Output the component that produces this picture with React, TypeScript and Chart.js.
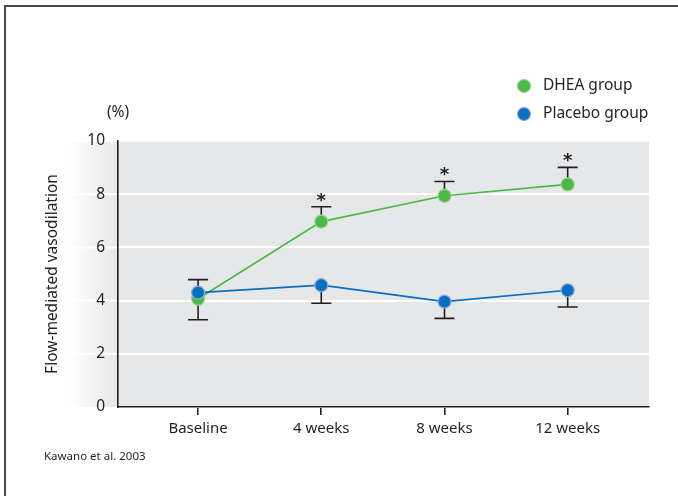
import React, { useEffect, useRef } from "react";
import { Chart, registerables } from "chart.js";

Chart.register(...registerables);

// Time points and measured flow-mediated vasodilation (%)
const categories = ["Baseline", "4 weeks", "8 weeks", "12 weeks"];
const dheaValues = [4.07, 6.97, 7.94, 8.37];
const placeboValues = [4.3, 4.58, 3.96, 4.39];
// One-sided error whisker end values for each group
const dheaWhisker = [3.28, 7.53, 8.48, 9.01];
const placeboWhisker = [4.79, 3.9, 3.33, 3.76];
// Time points where DHEA differs significantly from baseline
const significant = [false, true, true, true];
const yTicks = [0, 2, 4, 6, 8, 10];

const seriesLabels = ["DHEA group", "Placebo group"];
const FONT = "'Noto Sans', sans-serif";
const INK = "#231f20";
const PANEL = "#e6e7e8";
const GREEN = "#4cb848";
const BLUE = "#0b6fc1";

const backdrop = {
  id: "backdrop",
  beforeDraw(chart: any) {
    const { ctx, chartArea, scales } = chart;
    const { left, top, right, bottom } = chartArea;
    ctx.save();
    ctx.fillStyle = "#ffffff";
    ctx.fillRect(0, 0, chart.width, chart.height);

    // outer frame (top and left edges)
    ctx.strokeStyle = "#4a4a4a";
    ctx.lineWidth = 2;
    ctx.beginPath();
    ctx.moveTo(5, chart.height);
    ctx.lineTo(5, 6);
    ctx.lineTo(chart.width, 6);
    ctx.stroke();

    // grey panel with a soft fade to the left of the axis
    ctx.fillStyle = PANEL;
    ctx.fillRect(left, top, right - left, bottom - top);
    const fadeLeft = left - 50;
    const g = ctx.createLinearGradient(fadeLeft, 0, left, 0);
    g.addColorStop(0, "rgba(230,231,232,0)");
    g.addColorStop(1, "rgba(230,231,232,1)");
    ctx.fillStyle = g;
    ctx.fillRect(fadeLeft, top, left - fadeLeft, bottom - top);

    // grid lines continue into the faded band
    ctx.strokeStyle = "#ffffff";
    ctx.lineWidth = 2;
    for (const v of yTicks) {
      if (v === 0) continue;
      const y = scales.y.getPixelForValue(v);
      ctx.beginPath();
      ctx.moveTo(fadeLeft, y);
      ctx.lineTo(left, y);
      ctx.stroke();
    }
    ctx.restore();
  },
};

const whiskers = {
  id: "whiskers",
  beforeDatasetsDraw(chart: any) {
    const { ctx, scales } = chart;
    const sets = [
      { values: dheaValues, ends: dheaWhisker },
      { values: placeboValues, ends: placeboWhisker },
    ];
    ctx.save();
    ctx.strokeStyle = INK;
    ctx.lineWidth = 1.6;
    for (const s of sets) {
      s.values.forEach((v, i) => {
        const x = scales.x.getPixelForValue(i);
        const y0 = scales.y.getPixelForValue(v);
        const y1 = scales.y.getPixelForValue(s.ends[i]);
        ctx.beginPath();
        ctx.moveTo(x, y0);
        ctx.lineTo(x, y1);
        ctx.moveTo(x - 10, y1);
        ctx.lineTo(x + 10, y1);
        ctx.stroke();
      });
    }
    ctx.restore();
  },
  afterDatasetsDraw(chart: any) {
    const { ctx, scales } = chart;
    ctx.save();
    ctx.fillStyle = INK;
    ctx.font = `bold 18px 'DejaVu Sans', sans-serif`;
    ctx.textAlign = "center";
    ctx.textBaseline = "alphabetic";
    significant.forEach((sig, i) => {
      if (!sig) return;
      const x = scales.x.getPixelForValue(i);
      const y = scales.y.getPixelForValue(dheaWhisker[i]);
      ctx.fillText("*", x, y - 1);
    });
    ctx.restore();
  },
};

const annotations = {
  id: "annotations",
  afterDraw(chart: any) {
    const { ctx, chartArea } = chart;
    ctx.save();
    ctx.fillStyle = INK;

    // legend
    const colors = [GREEN, BLUE];
    const rims = ["#93d48e", "#8fa9d9"];
    seriesLabels.forEach((label, i) => {
      const cy = 86 + i * 28;
      ctx.beginPath();
      ctx.arc(524, cy, 6.5, 0, Math.PI * 2);
      ctx.fillStyle = colors[i];
      ctx.fill();
      ctx.lineWidth = 1.2;
      ctx.strokeStyle = rims[i];
      ctx.stroke();
      ctx.fillStyle = INK;
      ctx.font = `15.5px ${FONT}`;
      ctx.textAlign = "left";
      ctx.textBaseline = "middle";
      ctx.fillText(label, 543, cy);
    });

    // unit label above the axis
    ctx.font = `15.5px ${FONT}`;
    ctx.textAlign = "center";
    ctx.textBaseline = "middle";
    ctx.fillText("(%)", chartArea.left, 113);

    // axis title
    ctx.save();
    ctx.translate(53, (chartArea.top + chartArea.bottom) / 2);
    ctx.rotate(-Math.PI / 2);
    ctx.fillText("Flow-mediated vasodilation", 0, 0);
    ctx.restore();

    // source
    ctx.font = `11.5px ${FONT}`;
    ctx.textAlign = "left";
    ctx.fillText("Kawano et al. 2003", 44, 457);
    ctx.restore();
  },
};

export default function App() {
  const ref = useRef<HTMLCanvasElement | null>(null);

  useEffect(() => {
    if (!ref.current) return;
    const chart = new Chart(ref.current, {
      type: "line",
      data: {
        datasets: [
          {
            label: seriesLabels[0],
            data: dheaValues.map((v, i) => ({ x: i, y: v })),
            borderColor: GREEN,
            backgroundColor: GREEN,
            borderWidth: 1.6,
            pointRadius: 6.5,
            pointBorderWidth: 1.2,
            pointBorderColor: "#93d48e",
            pointBackgroundColor: GREEN,
            order: 2,
          },
          {
            label: seriesLabels[1],
            data: placeboValues.map((v, i) => ({ x: i, y: v })),
            borderColor: BLUE,
            backgroundColor: BLUE,
            borderWidth: 1.6,
            pointRadius: 6.5,
            pointBorderWidth: 1.2,
            pointBorderColor: "#8fa9d9",
            pointBackgroundColor: BLUE,
            order: 1,
          },
        ],
      },
      options: {
        responsive: false,
        animation: false,
        layout: { padding: { top: 141, right: 29, left: 0, bottom: 0 } },
        plugins: {
          legend: { display: false },
          tooltip: { enabled: false },
          title: { display: false },
        },
        scales: {
          x: {
            type: "linear",
            min: -0.65,
            max: 3.66,
            afterBuildTicks: (s: any) => {
              s.ticks = categories.map((_, i) => ({ value: i }));
            },
            afterFit: (s: any) => {
              s.height = 89;
            },
            ticks: {
              callback: (v: any) => categories[v] ?? "",
              color: INK,
              font: { family: FONT, size: 15 },
              padding: 5,
              maxRotation: 0,
            },
            grid: {
              drawOnChartArea: false,
              drawTicks: true,
              tickLength: 8,
              color: INK,
              lineWidth: 1.6,
            },
            border: { display: true, color: INK, width: 1.6 },
          },
          y: {
            type: "linear",
            min: 0,
            max: 10,
            afterBuildTicks: (s: any) => {
              s.ticks = yTicks.map((v) => ({ value: v }));
            },
            afterFit: (s: any) => {
              s.width = 118;
            },
            ticks: {
              color: INK,
              font: { family: FONT, size: 15.5 },
              padding: 13,
            },
            grid: {
              color: "#ffffff",
              lineWidth: 2,
              drawTicks: false,
            },
            border: { display: true, color: INK, width: 1.6 },
          },
        },
      },
      plugins: [backdrop, whiskers, annotations],
    });
    return () => chart.destroy();
  }, []);

  return (
    <div style={{ position: "absolute", left: 0, top: 0, width: 678, height: 496 }}>
      <canvas ref={ref} width={678} height={496} style={{ display: "block" }} />
    </div>
  );
}
